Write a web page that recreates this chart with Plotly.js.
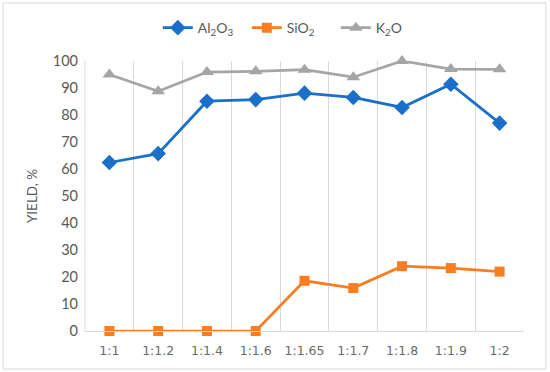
<!DOCTYPE html>
<html><head><meta charset="utf-8">
<script src="https://cdn.plot.ly/plotly-3.0.1.min.js"></script>
<style>body{margin:0;background:#fff}#c{width:550px;height:372px}</style>
</head><body><div id="c"></div>
<script>
const categories = ["1:1","1:1.2","1:1.4","1:1.6","1:1.65","1:1.7","1:1.8","1:1.9","1:2"];
const al2o3 = [62.4, 65.7, 85.1, 85.7, 88.1, 86.5, 82.8, 91.4, 77.0];
const sio2  = [0, 0, 0, 0, 18.6, 15.9, 24.0, 23.3, 22.0];
const k2o   = [95.0, 88.8, 95.9, 96.2, 96.8, 94.0, 100.0, 97.0, 96.9];
const yTicks = [0,10,20,30,40,50,60,70,80,90,100];

const font = {family: "Lato, 'Open Sans', sans-serif", color: "#595959", size: 13};
const traces = [
  {x: categories, y: al2o3, name: "Al<sub>2</sub>O<sub>3</sub>", type: "scatter", mode: "lines+markers", cliponaxis: false,
   line: {color: "#1a6fc8", width: 2.75}, marker: {symbol: "diamond", size: 12, color: "#1a6fc8"}},
  {x: categories, y: sio2, name: "SiO<sub>2</sub>", type: "scatter", mode: "lines+markers", cliponaxis: false,
   line: {color: "#fb7d22", width: 2.75}, marker: {symbol: "square", size: 10, color: "#fb7d22"}},
  {x: categories, y: k2o, name: "K<sub>2</sub>O", type: "scatter", mode: "lines+markers", cliponaxis: false,
   line: {color: "#a5a5a5", width: 2.75}, marker: {symbol: "triangle-up", size: 12, color: "#a5a5a5"}}
];
const layout = {
  width: 550, height: 372,
  margin: {l: 85, r: 26, t: 61, b: 41},
  paper_bgcolor: "#fff", plot_bgcolor: "#fff",
  font: font,
  showlegend: true,
  legend: {orientation: "h", x: 0.47, xanchor: "center", y: 1.122, yanchor: "middle",
           entrywidth: 44, entrywidthmode: "pixels",
           font: {family: "Lato, sans-serif", size: 14, color: "#595959"}},
  xaxis: {type: "category", range: [-0.5, 8.5], tickson: "boundaries", showgrid: true,
          gridcolor: "#d9d9d9", gridwidth: 1, showline: true, linecolor: "#d9d9d9", linewidth: 1,
          ticks: "", ticklabelstandoff: 8,
          tickfont: {family: "'DejaVu Sans', sans-serif", size: 12.5, color: "#6a6a6a"}, fixedrange: true},
  yaxis: {range: [0, 100], tickvals: yTicks, showgrid: false, zeroline: false, showline: false,
          ticks: "", ticklabelstandoff: 6, tickfont: {family: "Lato, sans-serif", size: 14.5, color: "#595959"},
          title: {text: "YIELD, %", font: {family: "Lato, sans-serif", size: 13.5, color: "#595959"}, standoff: 12}},
  shapes: [
    {type: "line", xref: "paper", yref: "paper", x0: 0, x1: 0, y0: 0, y1: 1, line: {color: "#d9d9d9", width: 1}},
    {type: "rect", xref: "paper", yref: "paper", x0: -0.1868, x1: 1.05, y0: -0.1407, y1: 1.2148,
     line: {color: "#d9d9d9", width: 1}, layer: "below"}
  ]
};
Plotly.newPlot("c", traces, layout, {displayModeBar: false, staticPlot: true});
</script></body></html>
